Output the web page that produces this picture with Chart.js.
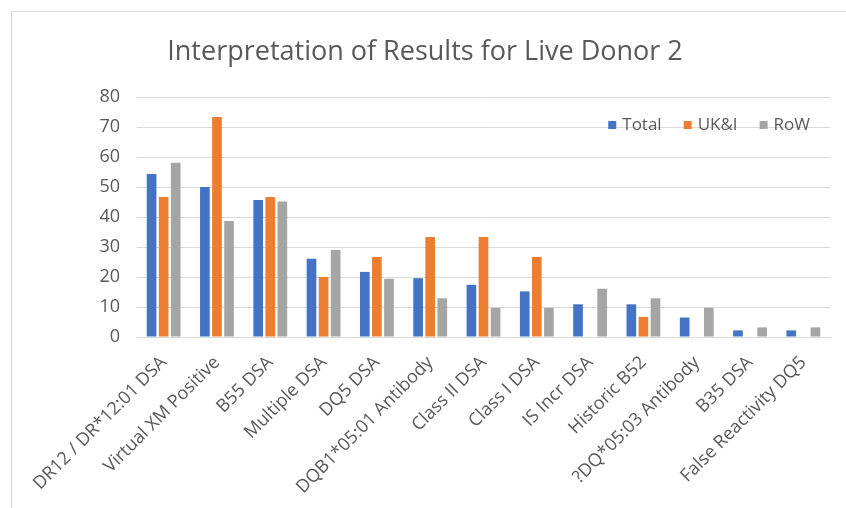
<!DOCTYPE html>
<html>
<head>
<meta charset="utf-8">
<script src="https://cdn.jsdelivr.net/npm/chart.js@4"></script>
<style>
  html, body { margin: 0; padding: 0; background: #fff; }
  #wrap { position: relative; width: 846px; height: 508px; }
  #frame {
    position: absolute; left: 11px; top: 11px; right: -2px; bottom: -2px;
    border: 1px solid #d9d9d9; pointer-events: none;
  }
</style>
</head>
<body>
<div id="wrap">
  <canvas id="chart" width="846" height="508"></canvas>
  <div id="frame"></div>
</div>
<script>
const categories = [
  "DR12 / DR*12:01 DSA", "Virtual XM Positive", "B55 DSA", "Multiple DSA",
  "DQ5 DSA", "DQB1*05:01 Antibody", "Class II DSA", "Class I DSA",
  "IS Incr DSA", "Historic B52", "?DQ*05:03 Antibody", "B35 DSA",
  "False Reactivity DQ5"
];
const totalValues = [54.3, 50.0, 45.7, 26.1, 21.7, 19.6, 17.4, 15.2, 10.9, 10.9, 6.5, 2.2, 2.2];
const ukiValues = [46.7, 73.3, 46.7, 20.0, 26.7, 33.3, 33.3, 26.7, 0, 6.7, 0, 0, 0];
const rowValues = [58.1, 38.7, 45.2, 29.0, 19.4, 12.9, 9.7, 9.7, 16.1, 12.9, 9.7, 3.2, 3.2];
const yTicks = [0, 10, 20, 30, 40, 50, 60, 70, 80];

const grey = "#595959";
const font = "'Open Sans', sans-serif";

// legend sits inside the plot area, in one row at the top right
const insideLegend = {
  id: "insideLegend",
  afterDraw(chart) {
    const ctx = chart.ctx;
    const area = chart.chartArea;
    const box = 8, gap = 6, spacing = 22;
    const y = area.top + 28;
    ctx.save();
    ctx.font = "17px " + font;
    ctx.textBaseline = "middle";
    const items = chart.data.datasets.map(ds => ({
      label: ds.label, color: ds.backgroundColor,
      w: box + gap + ctx.measureText(ds.label).width,
    }));
    const total = items.reduce((s, it) => s + it.w, 0) + spacing * (items.length - 1);
    let x = area.right - 20 - total;
    items.forEach(it => {
      ctx.fillStyle = it.color;
      ctx.fillRect(x, y - box / 2, box, box);
      ctx.fillStyle = grey;
      ctx.fillText(it.label, x + box + gap, y);
      x += it.w + spacing;
    });
    ctx.restore();
  },
};

new Chart(document.getElementById("chart"), {
  type: "bar",
  data: {
    labels: categories,
    datasets: [
      { label: "Total", data: totalValues, backgroundColor: "#4472C4" },
      { label: "UK&I", data: ukiValues, backgroundColor: "#ED7D31" },
      { label: "RoW", data: rowValues, backgroundColor: "#A5A5A5" },
    ],
  },
  options: {
    responsive: false,
    animation: false,
    datasets: {
      bar: { categoryPercentage: 0.68, barPercentage: 0.8 },
    },
    layout: { padding: { left: 20, right: 16, top: 11, bottom: 0 } },
    plugins: {
      title: {
        display: true,
        text: "Interpretation of Results for Live Donor 2",
        color: grey,
        font: { family: font, size: 27, weight: "normal" },
        padding: { top: 25, bottom: 28.6 },
      },
      legend: { display: false },
      tooltip: { enabled: false },
    },
    scales: {
      x: {
        grid: { display: false },
        border: { display: true, color: "#d9d9d9" },
        ticks: {
          color: grey,
          font: { family: font, size: 18 },
          minRotation: 45,
          maxRotation: 45,
          autoSkip: false,
          padding: 7,
        },
        afterFit(scale) { scale.height = 171; },
      },
      y: {
        min: 0,
        max: 80,
        afterBuildTicks(scale) { scale.ticks = yTicks.map(v => ({ value: v })); },
        grid: { color: "#d9d9d9", drawTicks: false },
        border: { display: false },
        ticks: {
          color: grey,
          font: { family: font, size: 18 },
          padding: 17,
        },
        afterFit(scale) { scale.width = 117; },
      },
    },
  },
  plugins: [insideLegend],
});
</script>
</body>
</html>
